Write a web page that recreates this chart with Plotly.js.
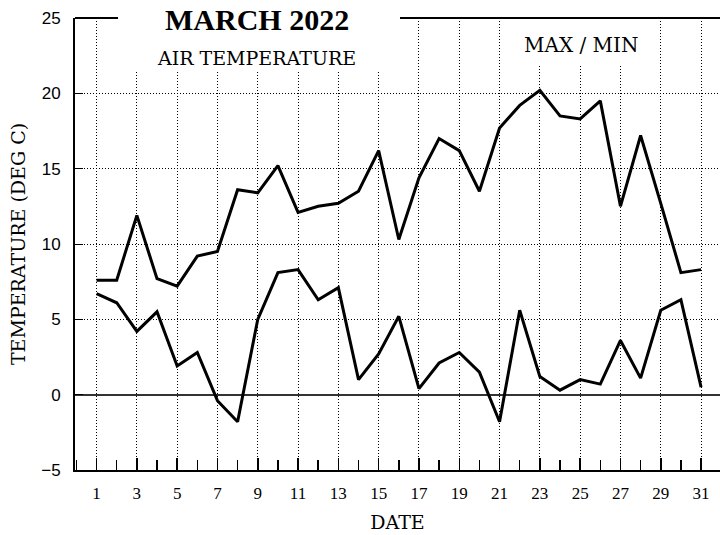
<!DOCTYPE html>
<html>
<head>
<meta charset="utf-8">
<script src="https://cdn.plot.ly/plotly-3.0.1.min.js"></script>
<style>html,body{margin:0;padding:0;background:#fff;}#chart{width:720px;height:535px;}</style>
</head>
<body>
<div id="chart"></div>
<script>
var days = [1,2,3,4,5,6,7,8,9,10,11,12,13,14,15,16,17,18,19,20,21,22,23,24,25,26,27,28,29,30,31];
var maxTemp = [7.6,7.6,11.9,7.7,7.2,9.2,9.5,13.6,13.4,15.2,12.1,12.5,12.7,13.5,16.2,10.3,14.4,17.0,16.2,13.5,17.7,19.2,20.2,18.5,18.3,19.5,12.5,17.2,12.7,8.1,8.3];
var minTemp = [6.7,6.1,4.2,5.5,1.9,2.8,-0.4,-1.8,5.0,8.1,8.3,6.3,7.1,1.0,2.7,5.2,0.4,2.1,2.8,1.5,-1.8,5.6,1.2,0.3,1.0,0.7,3.6,1.1,5.6,6.3,0.5];
var xTickVals = [1,3,5,7,9,11,13,15,17,19,21,23,25,27,29,31];
var yTickVals = [-5,0,5,10,15,20,25];
var titleMain = 'MARCH 2022';
var titleSub = 'AIR TEMPERATURE';
var titleRight = 'MAX / MIN';

var serif = 'Liberation Serif, Times New Roman, serif';
var wideSerif = 'DejaVu Serif, serif';
var sans = 'Liberation Sans, Arial, sans-serif';

var traces = [
  {x: days, y: maxTemp, type: 'scatter', mode: 'lines', line: {color: '#000', width: 3}, hoverinfo: 'skip', name: 'MAX'},
  {x: days, y: minTemp, type: 'scatter', mode: 'lines', line: {color: '#000', width: 3}, hoverinfo: 'skip', name: 'MIN'}
];

var layout = {
  width: 720, height: 535,
  margin: {l: 75, r: 0, t: 18, b: 65, pad: 0},
  paper_bgcolor: '#fff', plot_bgcolor: '#fff',
  showlegend: false,
  xaxis: {
    range: [-0.07, 31.94],
    tickmode: 'array', tickvals: xTickVals,
    ticks: 'inside', ticklen: 12, tickwidth: 1.5, tickcolor: '#000',
    minor: {dtick: 1, tick0: 0, ticks: 'inside', ticklen: 10, tickwidth: 1.5, tickcolor: '#000', showgrid: false},
    showgrid: true, gridcolor: '#000', gridwidth: 1, griddash: '1px,2px',
    showline: true, linecolor: '#000', linewidth: 2,
    zeroline: false,
    tickfont: {family: serif, size: 17, color: '#000'},
    ticklabelstandoff: 7,
    title: {text: 'DATE', font: {family: wideSerif, size: 19, color: '#000'}, standoff: 13}
  },
  yaxis: {
    range: [-5, 25],
    tickmode: 'array', tickvals: yTickVals,
    ticks: 'inside', ticklen: 8, tickwidth: 1, tickcolor: '#000',
    showgrid: true, gridcolor: '#000', gridwidth: 1, griddash: '1px,2px',
    showline: true, linecolor: '#000', linewidth: 2,
    zeroline: true, zerolinecolor: '#333', zerolinewidth: 2,
    tickfont: {family: sans, size: 17, color: '#000'},
    ticklabelstandoff: 9,
    title: {text: 'TEMPERATURE (DEG C)', font: {family: wideSerif, size: 19, color: '#000'}, standoff: 11}
  },
  shapes: [
    {type: 'rect', xref: 'paper', yref: 'paper', x0: 0.0667, x1: 0.5039, y0: 0.8805, y1: 1.01, fillcolor: '#fff', line: {width: 0}, layer: 'above'},
    {type: 'rect', xref: 'paper', yref: 'paper', x0: 0.682, x1: 0.891, y0: 0.8985, y1: 0.998, fillcolor: '#fff', line: {width: 0}, layer: 'above'},
    {type: 'line', xref: 'paper', yref: 'paper', x0: 0, x1: 0.0667, y0: 1, y1: 1, line: {color: '#000', width: 2}, layer: 'above'},
    {type: 'line', xref: 'paper', yref: 'paper', x0: 0.5039, x1: 1, y0: 1, y1: 1, line: {color: '#000', width: 2}, layer: 'above'}
  ],
  annotations: [
    {text: titleMain, xref: 'paper', yref: 'paper', x: 0.282, y: 0.9956, xanchor: 'center', yanchor: 'middle', showarrow: false,
     font: {family: serif, size: 30, color: '#000', weight: 'bold'}},
    {text: titleSub, xref: 'paper', yref: 'paper', x: 0.282, y: 0.9115, xanchor: 'center', yanchor: 'middle', showarrow: false,
     font: {family: wideSerif, size: 19, color: '#000'}},
    {text: titleRight, xref: 'paper', yref: 'paper', x: 0.7845, y: 0.9403, xanchor: 'center', yanchor: 'middle', showarrow: false,
     font: {family: wideSerif, size: 20, color: '#000'}}
  ]
};

Plotly.newPlot('chart', traces, layout, {staticPlot: true, displayModeBar: false});
</script>
</body>
</html>
